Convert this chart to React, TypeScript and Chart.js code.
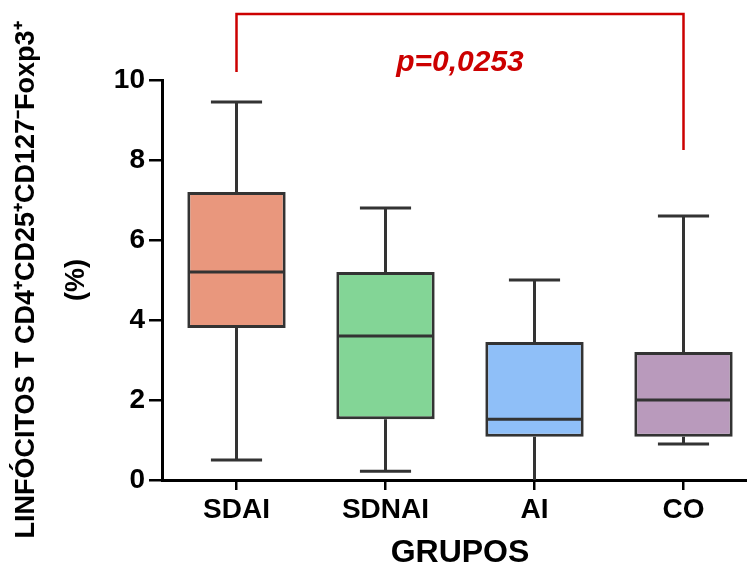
import React, { useEffect, useRef } from 'react';
import { Chart, registerables } from 'chart.js';

Chart.register(...registerables);

const categories = ['SDAI', 'SDNAI', 'AI', 'CO'];
const minValues = [0.5, 0.22, 0, 0.9];
const q1Values = [3.8, 1.52, 1.08, 1.08];
const medianValues = [5.2, 3.6, 1.52, 2.0];
const q3Values = [7.2, 5.2, 3.45, 3.2];
const maxValues = [9.45, 6.8, 5.0, 6.6];
const boxColors = ['#E9977D', '#83D596', '#8FBFF8', '#B99ABC'];
const yMin = 0;
const yMax = 10;
const yStep = 2;
const xTitle = 'GRUPOS';
const yTitle = ['LINFÓCITOS T CD4⁺CD25⁺CD127⁻Foxp3⁺', '(%)'];
const pLabel = 'p=0,0253';
const bracketFromIndex = 0;
const bracketToIndex = 3;
const bracketTopValue = 11.65;
const bracketLeftEndValue = 10.2;
const bracketRightEndValue = 8.25;
const pLabelValue = 10.43;

const FONT = "'Liberation Sans', Arial, sans-serif";

const boxExtras = {
  id: 'boxExtras',
  afterDatasetsDraw(chart: any) {
    const ctx = chart.ctx;
    const meta = chart.getDatasetMeta(0);
    const ys = chart.scales.y;
    const xs = chart.scales.x;
    ctx.save();
    ctx.strokeStyle = '#333333';
    ctx.lineWidth = 3;
    ctx.lineCap = 'butt';
    meta.data.forEach((bar: any, i: number) => {
      const { x, width } = bar.getProps(['x', 'width'], true);
      const half = width / 2;
      const cap = width * 0.26;
      const pMin = ys.getPixelForValue(minValues[i]);
      const pQ1 = ys.getPixelForValue(q1Values[i]);
      const pMed = ys.getPixelForValue(medianValues[i]);
      const pQ3 = ys.getPixelForValue(q3Values[i]);
      const pMax = ys.getPixelForValue(maxValues[i]);
      ctx.beginPath();
      ctx.moveTo(x, pQ3);
      ctx.lineTo(x, pMax);
      ctx.moveTo(x - cap, pMax);
      ctx.lineTo(x + cap, pMax);
      ctx.moveTo(x, pQ1);
      ctx.lineTo(x, pMin);
      if (minValues[i] > 0) {
        ctx.moveTo(x - cap, pMin);
        ctx.lineTo(x + cap, pMin);
      }
      ctx.moveTo(x - half + 1, pMed);
      ctx.lineTo(x + half - 1, pMed);
      ctx.stroke();
    });

    // significance bracket
    const xl = xs.getPixelForValue(bracketFromIndex);
    const xr = xs.getPixelForValue(bracketToIndex);
    const yt = ys.getPixelForValue(bracketTopValue);
    ctx.strokeStyle = '#CC0000';
    ctx.lineWidth = 2.5;
    ctx.beginPath();
    ctx.moveTo(xl, ys.getPixelForValue(bracketLeftEndValue));
    ctx.lineTo(xl, yt);
    ctx.lineTo(xr, yt);
    ctx.lineTo(xr, ys.getPixelForValue(bracketRightEndValue));
    ctx.stroke();

    ctx.fillStyle = '#CC0000';
    ctx.font = `italic bold 30px ${FONT}`;
    ctx.textAlign = 'center';
    ctx.textBaseline = 'middle';
    ctx.fillText(pLabel, (xl + xr) / 2, ys.getPixelForValue(pLabelValue));
    ctx.restore();
  },
};

export default function App() {
  const ref = useRef<HTMLCanvasElement | null>(null);

  useEffect(() => {
    if (!ref.current) return;
    const chart = new Chart(ref.current, {
      type: 'bar',
      data: {
        labels: categories,
        datasets: [
          {
            data: categories.map((_, i) => [q1Values[i], q3Values[i]]) as any,
            backgroundColor: boxColors,
            borderColor: '#333333',
            borderWidth: 3,
            borderSkipped: false,
            barPercentage: 0.66,
            categoryPercentage: 1,
          },
        ],
      },
      options: {
        animation: false,
        responsive: true,
        maintainAspectRatio: false,
        layout: { padding: { top: 80, left: 0, right: 0, bottom: 0 } },
        plugins: {
          legend: { display: false },
          tooltip: { enabled: false },
        },
        scales: {
          x: {
            type: 'category',
            offset: true,
            afterFit: (scale: any) => {
              scale.height = 86;
            },
            grid: {
              display: true,
              drawOnChartArea: false,
              drawTicks: true,
              tickLength: 10,
              color: '#000000',
              lineWidth: 2.5,
              offset: false,
            },
            border: { display: true, color: '#000000', width: 3 },
            ticks: {
              color: '#000000',
              padding: 3,
              font: { family: FONT, size: 28, weight: 'bold' },
            },
            title: {
              display: true,
              text: xTitle,
              color: '#000000',
              padding: { top: 0, bottom: 0 },
              font: { family: FONT, size: 32, weight: 'bold', lineHeight: 0.8 },
            },
          },
          y: {
            min: yMin,
            max: yMax,
            afterFit: (scale: any) => {
              scale.width = 162;
            },
            grid: {
              display: true,
              drawOnChartArea: false,
              drawTicks: true,
              tickLength: 13,
              color: '#000000',
              lineWidth: 2.5,
            },
            border: { display: true, color: '#000000', width: 3 },
            ticks: {
              stepSize: yStep,
              color: '#000000',
              padding: 4,
              font: { family: FONT, size: 28, weight: 'bold' },
            },
            title: {
              display: true,
              text: yTitle,
              color: '#000000',
              padding: { top: 2, bottom: 0 },
              font: { family: FONT, size: 27, weight: 'bold', lineHeight: 1.85 },
            },
          },
        },
      },
      plugins: [boxExtras],
    });
    return () => chart.destroy();
  }, []);

  return (
    <div
      style={{
        position: 'fixed',
        left: 0,
        top: 0,
        width: 747,
        height: 566,
        overflow: 'hidden',
        background: '#ffffff',
      }}
    >
      <div style={{ position: 'relative', width: 758, height: 566 }}>
        <canvas ref={ref} />
      </div>
    </div>
  );
}
